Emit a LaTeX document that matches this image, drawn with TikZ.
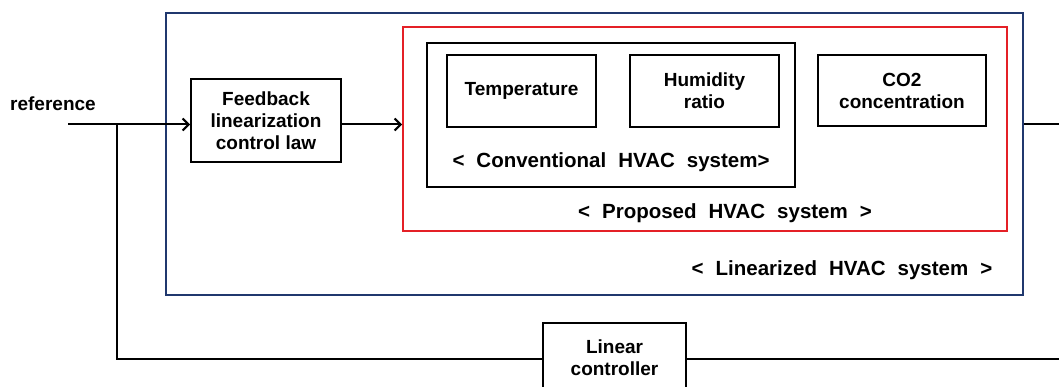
\documentclass[tikz,border=0pt]{standalone}
\usepackage{fontspec}
\setmainfont{Liberation Sans}
\usetikzlibrary{arrows.meta}
\definecolor{navy}{RGB}{32,56,110}
\definecolor{redline}{RGB}{228,32,38}
\newcommand{\gp}{\hspace{12pt}}
\begin{document}
\begin{tikzpicture}[x=1pt,y=-1pt,
  every node/.style={font=\fontsize{19}{22}\selectfont\bfseries},
  blk/.style={draw=black,line width=2pt,align=center,inner sep=0pt},
  lbl/.style={inner sep=0pt,font=\fontsize{20.5}{22}\selectfont\bfseries},
  conn/.style={line width=2pt},
  arr/.style={conn,-{Straight Barb[length=6pt,width=12pt,line width=2pt]}}]
\useasboundingbox (0,0) rectangle (1059,387);
% containers
\node[draw=navy,line width=2pt,minimum width=857pt,minimum height=282pt,inner sep=0pt] (lin) at (594.5,154) {};
\node[draw=redline,line width=2pt,minimum width=604pt,minimum height=204pt,inner sep=0pt] (prop) at (705,129) {};
\node[blk,minimum width=368pt,minimum height=144pt] (conv) at (611,115) {};
% blocks
\node[blk,minimum width=150pt,minimum height=83pt] (fb) at (266,120.5) {Feedback\\linearization\\control law};
\node[blk,minimum width=149pt,minimum height=72pt] (temp) at (521.5,91) {Temperature};
\node[blk,minimum width=149pt,minimum height=72pt] (hum) at (704.5,91) {Humidity\\ratio};
\node[blk,minimum width=168pt,minimum height=71pt] (co2) at (902,90.5) {CO2\\concentration};
\node[blk,minimum width=143pt,minimum height=70pt] (lc) at (614.5,358) {Linear\\controller};
% labels
\node[lbl] (tconv) at (611,162) {<\gp Conventional\gp HVAC\gp system>};
\node[lbl] (tprop) at (725,213) {<\gp Proposed\gp HVAC\gp system\gp >};
\node[lbl] (tlin) at (842,270) {<\gp Linearized\gp HVAC\gp system\gp >};
\node[anchor=west,inner sep=0pt] (ref) at (10,104) {reference};
% coordinates
\coordinate (rs) at (68,124.5);
\coordinate (br) at (117,124.5);
\coordinate (bb) at (117,359);
\coordinate (out) at (1059,124.5);
\coordinate (outb) at (1059,359);
% connectors
\draw[arr] (rs) -- (fb.west |- rs);
\draw[arr] (fb.east |- rs) -- (prop.west |- rs);
\draw[conn] (lin.east |- out) -- (out);
\draw[conn] (br) -- (bb) -- (lc.west |- bb);
\draw[conn] (lc.east |- outb) -- (outb);
\end{tikzpicture}
\end{document}
